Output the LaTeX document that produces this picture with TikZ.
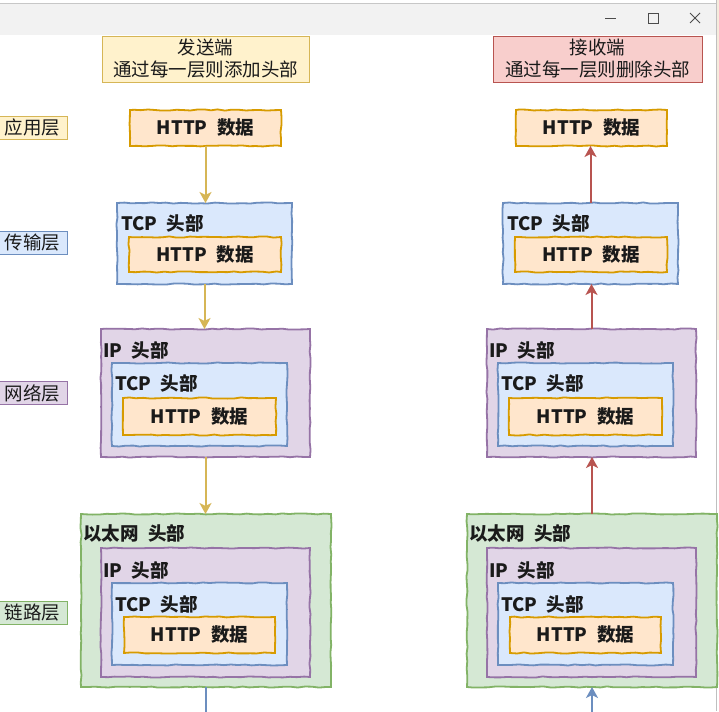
\documentclass[tikz,border=0pt]{standalone}
\usepackage{fontspec}
\newfontfamily\cjk[WordSpace=2.2]{Noto Sans CJK SC}
\usetikzlibrary{arrows.meta,decorations.pathmorphing}
\definecolor{yfill}{HTML}{FFF2CC}\definecolor{ystroke}{HTML}{D6B656}
\definecolor{ofill}{HTML}{FFE6CC}\definecolor{ostroke}{HTML}{D79B00}
\definecolor{bfill}{HTML}{DAE8FC}\definecolor{bstroke}{HTML}{6C8EBF}
\definecolor{pfill}{HTML}{E1D5E7}\definecolor{pstroke}{HTML}{9673A6}
\definecolor{gfill}{HTML}{D5E8D4}\definecolor{gstroke}{HTML}{82B366}
\definecolor{rfill}{HTML}{F8CECC}\definecolor{rstroke}{HTML}{B85450}
\definecolor{txt}{HTML}{1A1A1A}
\definecolor{tbar}{HTML}{F2F2F2}
\definecolor{strip}{HTML}{F6EBDD}
\tikzset{
  sketchy/.style={decorate,decoration={random steps,segment length=7pt,amplitude=0.6pt}},
  boxfont/.style={font={\cjk\bfseries\fontsize{18.5}{23}\selectfont},text=txt},
  shape base/.style={rectangle,inner sep=0pt,outer sep=0pt,line width=1.8pt,sketchy,boxfont},
  hbox/.style={shape base,draw=ostroke,fill=ofill},
  tcpbox/.style={shape base,draw=bstroke,fill=bfill},
  ipbox/.style={shape base,draw=pstroke,fill=pfill},
  ethbox/.style={shape base,draw=gstroke,fill=gfill},
  lbl/.style={anchor=west,inner sep=0pt,boxfont},
  layerlbl/.style={rectangle,inner sep=0pt,line width=0.8pt,minimum width=69pt,minimum height=23pt,
    font={\cjk\fontsize{18.5}{21}\selectfont},text=txt},
  hdr/.style={rectangle,inner sep=0pt,line width=0.8pt,minimum width=207pt,minimum height=46pt,
    align=center,font={\cjk\fontsize{18.5}{22}\selectfont},text=txt},
  arrbase/.style={line width=2pt,-{Stealth[length=11pt,width=12pt,inset=3pt]}},
  arrY/.style={arrbase,draw=ystroke,color=ystroke},
  arrR/.style={arrbase,draw=rstroke,color=rstroke},
  arrB/.style={arrbase,draw=bstroke,color=bstroke},
  ctrl/.style={draw=black!70,line width=0.9pt}
}
\newcommand\stackcol[2]{%
\begin{scope}[xshift=#2pt]
\node[hbox,minimum width=151pt,minimum height=36pt] (#1app) at (205.5,128) {HTTP 数据};
\node[tcpbox,minimum width=175pt,minimum height=81pt] (#1tcp) at (204.5,243.5) {};
\node[lbl] (#1tcpL) at (121,223) {TCP 头部};
\node[hbox,minimum width=152pt,minimum height=35pt] (#1tcpH) at (205,254.5) {HTTP 数据};
\node[ipbox,minimum width=209pt,minimum height=128pt] (#1ip) at (205.5,393) {};
\node[lbl] (#1ipL) at (103,350) {IP 头部};
\node[tcpbox,minimum width=175pt,minimum height=83pt] (#1ipT) at (199.5,404.5) {};
\node[lbl] (#1ipTL) at (115,383) {TCP 头部};
\node[hbox,minimum width=153pt,minimum height=37pt] (#1ipH) at (199.5,416.5) {HTTP 数据};
\node[ethbox,minimum width=250pt,minimum height=173pt] (#1eth) at (206,600.5) {};
\node[lbl] (#1ethL) at (83,533) {以太网 头部};
\node[ipbox,minimum width=209pt,minimum height=129pt] (#1ethI) at (205.5,612.5) {};
\node[lbl] (#1ethIL) at (103,570) {IP 头部};
\node[tcpbox,minimum width=175pt,minimum height=82pt] (#1ethT) at (199.5,624) {};
\node[lbl] (#1ethTL) at (115,604) {TCP 头部};
\node[hbox,minimum width=151pt,minimum height=36pt] (#1ethH) at (199.5,635) {HTTP 数据};
\end{scope}}
\begin{document}
\begin{tikzpicture}[x=1pt,y=-1pt]
\useasboundingbox (0,0) rectangle (719,711);
\clip (0,0) rectangle (719,711);
\fill[white] (0,0) rectangle (719,711);
% window title bar
\fill[tbar] (0,3) rectangle (716,35);
\draw[black!22,line width=0.8pt] (0,3) -- (716,3);
\draw[ctrl] (605,18.5) -- (616,18.5);
\draw[ctrl] (648,13) rectangle (658,23);
\draw[ctrl] (690,13) -- (700,23) (690,23) -- (700,13);
% right window edge and background strip
\fill[strip] (716.5,0) rectangle (719,340);
\draw[black!25,line width=0.8pt] (716.2,0) -- (716.2,711);
% headers
\node[hdr,draw=ystroke,fill=yfill] (send) at (205.5,59) {发送端\\通过每一层则添加头部};
\node[hdr,draw=rstroke,fill=rfill,minimum width=209pt] (recv) at (597.5,59) {接收端\\通过每一层则删除头部};
% layer labels
\node[layerlbl,draw=ystroke,fill=yfill] (layApp) at (32.5,127.5) {应用层};
\node[layerlbl,draw=bstroke,fill=bfill] (layTr) at (32.5,243) {传输层};
\node[layerlbl,draw=pstroke,fill=pfill] (layNet) at (32.5,393) {网络层};
\node[layerlbl,draw=gstroke,fill=gfill] (layLink) at (32.5,613) {链路层};
\pgfmathsetseed{7}
\stackcol{L}{0}
\pgfmathsetseed{11}
\stackcol{R}{386}
% sender arrows
\draw[arrY] (Lapp.south) -- (Lapp.south |- Ltcp.north);
\draw[arrY] (Ltcp.south) -- (Ltcp.south |- Lip.north);
\draw[arrY] (Lip.south) -- (Lip.south |- Leth.north);
\coordinate (Lout) at (206,716);
\draw[arrB,-] (Leth.south) -- (Lout);
% receiver arrows
\draw[arrR] (Rtcp.north) -- (Rtcp.north |- Rapp.south);
\draw[arrR] (Rip.north) -- (Rip.north |- Rtcp.south);
\draw[arrR] (Reth.north) -- (Reth.north |- Rip.south);
\coordinate (Rin) at (592,716);
\draw[arrB] (Rin) -- (Reth.south);
\end{tikzpicture}
\end{document}
